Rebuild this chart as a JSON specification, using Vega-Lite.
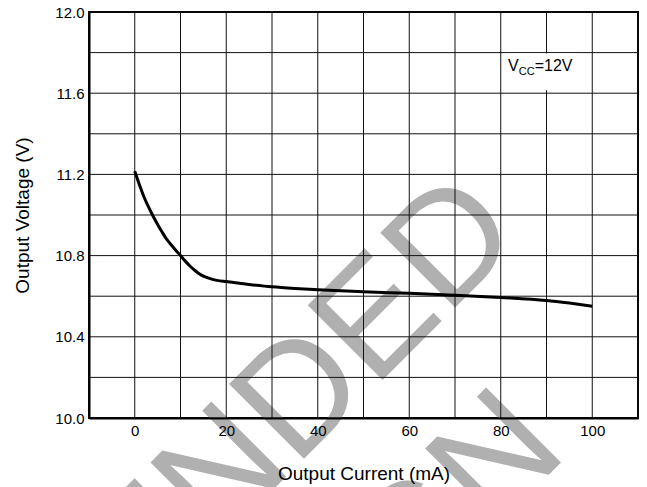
{
  "$schema": "https://vega.github.io/schema/vega-lite/v6.json",
  "width": 549,
  "height": 406,
  "autosize": {"type": "none"},
  "padding": {"left": 89, "top": 12, "right": 9, "bottom": 69},
  "background": "white",
  "config": {
    "view": {"stroke": "#000", "strokeWidth": 2},
    "font": "Liberation Sans",
    "text": {"font": "Liberation Sans"},
    "axis": {
      "grid": false, "ticks": false, "tickSize": 0,
      "domainColor": "#000", "domainWidth": 2, "labelFont": "Liberation Sans", "labelFontSize": 15, "labelColor": "#000",
      "labelFlush": false, "labelOverlap": false,
      "titleFont": "Liberation Sans", "titleFontSize": 19, "titleFontWeight": "normal", "titleColor": "#000"
    },
    "axisX": {"labelPadding": 5.5, "titlePadding": 26},
    "axisY": {"labelPadding": 5, "titlePadding": 22}
  },
  "datasets": {
    "curve": [
      {"current": 0, "voltage": 11.215}, {"current": 1, "voltage": 11.15}, {"current": 2, "voltage": 11.09},
      {"current": 3, "voltage": 11.04}, {"current": 4, "voltage": 10.995}, {"current": 5, "voltage": 10.953},
      {"current": 6, "voltage": 10.915}, {"current": 7, "voltage": 10.88}, {"current": 8, "voltage": 10.852},
      {"current": 9, "voltage": 10.825}, {"current": 10, "voltage": 10.8}, {"current": 11, "voltage": 10.774},
      {"current": 12, "voltage": 10.75}, {"current": 13, "voltage": 10.73}, {"current": 14, "voltage": 10.712},
      {"current": 15, "voltage": 10.699}, {"current": 16, "voltage": 10.69}, {"current": 17, "voltage": 10.683},
      {"current": 18, "voltage": 10.678}, {"current": 20, "voltage": 10.672}, {"current": 25, "voltage": 10.658},
      {"current": 30, "voltage": 10.646}, {"current": 35, "voltage": 10.638}, {"current": 40, "voltage": 10.632},
      {"current": 50, "voltage": 10.622}, {"current": 60, "voltage": 10.614}, {"current": 70, "voltage": 10.605},
      {"current": 80, "voltage": 10.594}, {"current": 90, "voltage": 10.579}, {"current": 95, "voltage": 10.566},
      {"current": 100, "voltage": 10.551}
    ],
    "gridX": [
      {"current": -10}, {"current": 0}, {"current": 10}, {"current": 20}, {"current": 30}, {"current": 40},
      {"current": 50}, {"current": 60}, {"current": 70}, {"current": 80}, {"current": 90}, {"current": 100}, {"current": 110}
    ],
    "gridY": [
      {"voltage": 10.0}, {"voltage": 10.2}, {"voltage": 10.4}, {"voltage": 10.6}, {"voltage": 10.8}, {"voltage": 11.0},
      {"voltage": 11.2}, {"voltage": 11.4}, {"voltage": 11.6}, {"voltage": 11.8}, {"voltage": 12.0}
    ],
    "watermark": [
      {"label": "NOT RECOMMENDED", "current": 85.3, "voltage": 10.888},
      {"label": "FOR NEW DESIGN", "current": 95.1, "voltage": 9.825}
    ],
    "notebox": [
      {"current": 81, "current2": 97.3, "voltage": 11.615, "voltage2": 11.795}
    ],
    "note": [
      {"current": 81.6, "voltage": 11.71}
    ]
  },
  "layer": [
    {
      "data": {"name": "watermark"},
      "mark": {"type": "text", "fontSize": 154, "angle": -45, "align": "right", "baseline": "alphabetic", "fill": "#b0b0b0", "font": "Liberation Sans"},
      "encoding": {
        "x": {"field": "current", "type": "quantitative", "scale": {"domain": [-10, 110], "nice": false, "zero": false},
              "axis": {"title": "Output Current (mA)", "values": [0, 20, 40, 60, 80, 100], "zindex": 2}},
        "y": {"field": "voltage", "type": "quantitative", "scale": {"domain": [10, 12], "nice": false, "zero": false},
              "axis": {"title": "Output Voltage (V)", "values": [10, 10.4, 10.8, 11.2, 11.6, 12], "format": ".1f", "zindex": 2}},
        "text": {"field": "label", "type": "nominal"}
      }
    },
    {
      "data": {"name": "gridX"},
      "mark": {"type": "rule", "stroke": "#111", "strokeWidth": 1},
      "encoding": {
        "x": {"field": "current", "type": "quantitative", "scale": {"domain": [-10, 110], "nice": false, "zero": false},
              "axis": {"title": "Output Current (mA)", "values": [0, 20, 40, 60, 80, 100], "zindex": 2}}
      }
    },
    {
      "data": {"name": "gridY"},
      "mark": {"type": "rule", "stroke": "#111", "strokeWidth": 1},
      "encoding": {
        "y": {"field": "voltage", "type": "quantitative", "scale": {"domain": [10, 12], "nice": false, "zero": false},
              "axis": {"title": "Output Voltage (V)", "values": [10, 10.4, 10.8, 11.2, 11.6, 12], "format": ".1f", "zindex": 2}}
      }
    },
    {
      "data": {"name": "curve"},
      "mark": {"type": "line", "stroke": "#000", "strokeWidth": 3, "interpolate": "monotone"},
      "encoding": {
        "x": {"field": "current", "type": "quantitative", "scale": {"domain": [-10, 110], "nice": false, "zero": false},
              "axis": {"title": "Output Current (mA)", "values": [0, 20, 40, 60, 80, 100], "zindex": 2}},
        "y": {"field": "voltage", "type": "quantitative", "scale": {"domain": [10, 12], "nice": false, "zero": false},
              "axis": {"title": "Output Voltage (V)", "values": [10, 10.4, 10.8, 11.2, 11.6, 12], "format": ".1f", "zindex": 2}}
      }
    },
    {
      "data": {"name": "notebox"},
      "mark": {"type": "rect", "fill": "white", "stroke": null},
      "encoding": {
        "x": {"field": "current", "type": "quantitative", "scale": {"domain": [-10, 110], "nice": false, "zero": false},
              "axis": {"title": "Output Current (mA)", "values": [0, 20, 40, 60, 80, 100], "zindex": 2}},
        "x2": {"field": "current2"},
        "y": {"field": "voltage", "type": "quantitative", "scale": {"domain": [10, 12], "nice": false, "zero": false},
              "axis": {"title": "Output Voltage (V)", "values": [10, 10.4, 10.8, 11.2, 11.6, 12], "format": ".1f", "zindex": 2}},
        "y2": {"field": "voltage2"}
      }
    },
    {
      "data": {"name": "note"},
      "mark": {"type": "text", "text": "V", "fontSize": 16, "align": "left", "baseline": "alphabetic", "fill": "#000"},
      "encoding": {
        "x": {"field": "current", "type": "quantitative", "scale": {"domain": [-10, 110], "nice": false, "zero": false},
              "axis": {"title": "Output Current (mA)", "values": [0, 20, 40, 60, 80, 100], "zindex": 2}},
        "y": {"field": "voltage", "type": "quantitative", "scale": {"domain": [10, 12], "nice": false, "zero": false},
              "axis": {"title": "Output Voltage (V)", "values": [10, 10.4, 10.8, 11.2, 11.6, 12], "format": ".1f", "zindex": 2}}
      }
    },
    {
      "data": {"name": "note"},
      "mark": {"type": "text", "text": "CC", "fontSize": 11, "dx": 10.7, "dy": 4, "align": "left", "baseline": "alphabetic", "fill": "#000"},
      "encoding": {
        "x": {"field": "current", "type": "quantitative", "scale": {"domain": [-10, 110], "nice": false, "zero": false},
              "axis": {"title": "Output Current (mA)", "values": [0, 20, 40, 60, 80, 100], "zindex": 2}},
        "y": {"field": "voltage", "type": "quantitative", "scale": {"domain": [10, 12], "nice": false, "zero": false},
              "axis": {"title": "Output Voltage (V)", "values": [10, 10.4, 10.8, 11.2, 11.6, 12], "format": ".1f", "zindex": 2}}
      }
    },
    {
      "data": {"name": "note"},
      "mark": {"type": "text", "text": "=12V", "fontSize": 16, "dx": 26.6, "align": "left", "baseline": "alphabetic", "fill": "#000"},
      "encoding": {
        "x": {"field": "current", "type": "quantitative", "scale": {"domain": [-10, 110], "nice": false, "zero": false},
              "axis": {"title": "Output Current (mA)", "values": [0, 20, 40, 60, 80, 100], "zindex": 2}},
        "y": {"field": "voltage", "type": "quantitative", "scale": {"domain": [10, 12], "nice": false, "zero": false},
              "axis": {"title": "Output Voltage (V)", "values": [10, 10.4, 10.8, 11.2, 11.6, 12], "format": ".1f", "zindex": 2}}
      }
    }
  ]
}
